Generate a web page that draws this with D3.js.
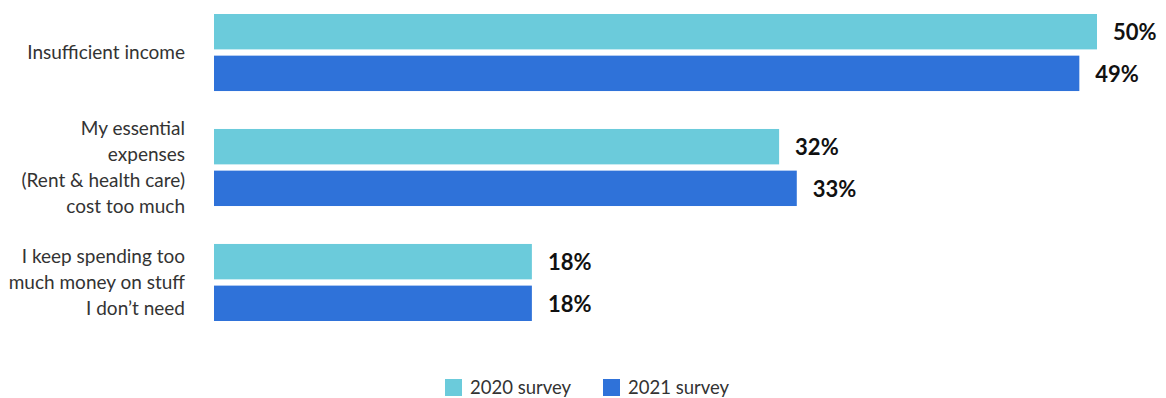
<!DOCTYPE html>
<html>
<head>
<meta charset="utf-8">
<script src="https://cdn.jsdelivr.net/npm/d3@7"></script>
<style>
  html, body { margin: 0; padding: 0; background: #fff; }
  svg { display: block; }
</style>
</head>
<body>
<svg id="chart" width="1166" height="398"></svg>
<script>
// Reasons for not saving, by survey year
const categories = [
  ["Insufficient income"],
  ["My essential", "expenses", "(Rent & health care)", "cost too much"],
  ["I keep spending too", "much money on stuff", "I don\u2019t need"]
];
const seriesNames = ["2020 survey", "2021 survey"];
const values2020 = [50, 32, 18];
const values2021 = [49, 33, 18];
const colors = ["#6bcbdb", "#2f72d9"];

const svg = d3.select("#chart");
const catKeys = categories.map((c, i) => i);
const seriesValues = [values2020, values2021];

const x = d3.scaleLinear().domain([0, 50]).range([214, 1097]);
const y0 = d3.scaleBand().domain(catKeys).range([14, 321]).paddingInner(0.33).paddingOuter(0);
const y1 = d3.scaleBand().domain([0, 1]).range([0, y0.bandwidth()]).paddingInner(0.15);

const groups = svg.selectAll("g.group")
  .data(catKeys)
  .join("g")
  .attr("class", "group")
  .attr("transform", d => `translate(0,${y0(d)})`);

// Bars and value labels
groups.each(function(ci) {
  const g = d3.select(this);
  seriesValues.forEach((vals, si) => {
    g.append("rect")
      .attr("x", x(0))
      .attr("y", y1(si))
      .attr("width", x(vals[ci]) - x(0))
      .attr("height", y1.bandwidth())
      .attr("fill", colors[si]);
    g.append("text")
      .attr("x", x(vals[ci]) + 16)
      .attr("y", y1(si) + y1.bandwidth() / 2)
      .attr("dy", "0.38em")
      .attr("font-family", "Lato, sans-serif")
      .attr("font-weight", 700)
      .attr("font-size", 22)
      .attr("fill", "#111")
      .text(vals[ci] + "%");
  });
});

// Category labels, right aligned, multi-line
const lineH = 26;
groups.append("text")
  .attr("text-anchor", "end")
  .attr("font-family", "Lato, sans-serif")
  .attr("font-size", 19)
  .attr("fill", "#333")
  .each(function(ci) {
    const lines = categories[ci];
    const t = d3.select(this);
    const center = y0.bandwidth() / 2;
    lines.forEach((ln, i) => {
      t.append("tspan")
        .attr("x", 185)
        .attr("y", center + (i - (lines.length - 1) / 2) * lineH)
        .attr("dy", "0.36em")
        .text(ln);
    });
  });

// Legend
const legendX = [445, 603];
const legend = svg.selectAll("g.legend")
  .data(seriesNames)
  .join("g")
  .attr("class", "legend")
  .attr("transform", (d, i) => `translate(${legendX[i]},379)`);
legend.append("rect")
  .attr("width", 17).attr("height", 17)
  .attr("fill", (d, i) => colors[i]);
legend.append("text")
  .attr("x", 25)
  .attr("y", 15)
  .attr("font-family", "Lato, sans-serif")
  .attr("font-size", 18.5)
  .attr("fill", "#333")
  .text(d => d);
</script>
</body>
</html>
